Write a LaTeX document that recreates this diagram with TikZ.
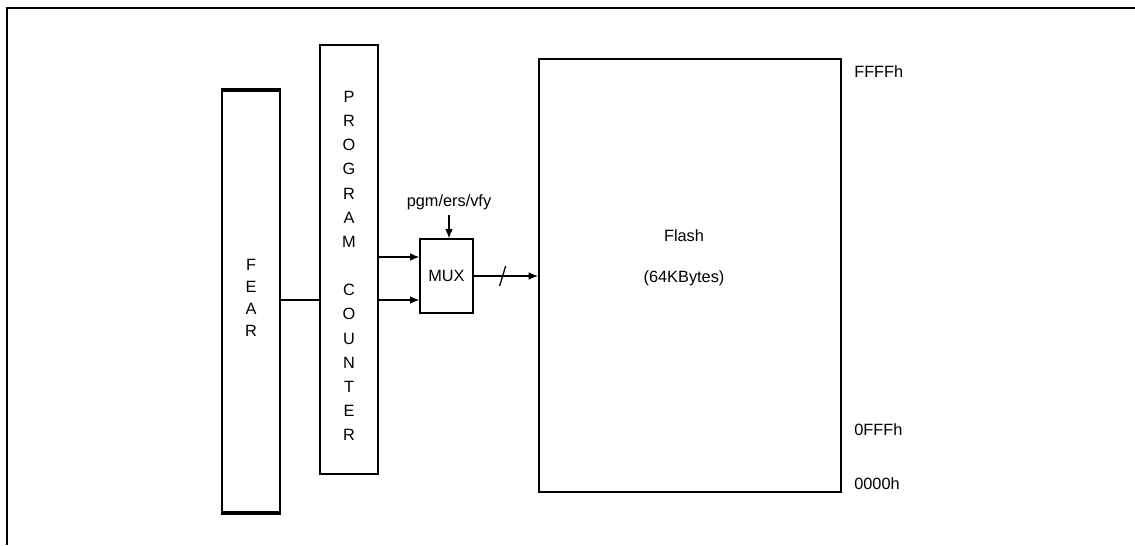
\documentclass[tikz,border=0pt]{standalone}
\usepackage{fontspec}
\setsansfont{Liberation Sans}
\usetikzlibrary{arrows.meta,calc,positioning}

\begin{document}
\begin{tikzpicture}[
  x=0.025cm,y=-0.025cm,
  font=\sffamily\fontsize{11.6}{12}\selectfont,
  >=Latex,
  reg/.style={draw,line width=1.2pt,minimum width=1.45cm,inner sep=0pt},
  block/.style={draw,line width=1.2pt,inner sep=0pt},
  stack/.style={align=center,inner sep=0pt},
  sig/.style={->,line width=0.8pt,>={Latex[length=6.5pt,width=5.5pt]}},
  addr/.style={anchor=west,inner sep=0pt}
]
\useasboundingbox (0,0) rectangle (1135,545);
% frame
\draw[line width=1.5pt] (7,545) -- (7,8) -- (1135,8);

% registers
\node[reg,minimum height=10.525cm] (fear) at (251,301.5) {};
\draw[line width=2.6pt] (fear.north west) -- (fear.north east);
\draw[line width=2.6pt] (fear.south west) -- (fear.south east);
\node[stack,font=\sffamily\fontsize{11.6}{15.6}\selectfont] (feartxt) at (251,298) {F\\E\\A\\R};

\node[reg,minimum height=10.725cm] (pc) at (349,259.5) {};
\node[stack,font=\sffamily\fontsize{11.6}{17.2}\selectfont] (pctxt) at (349,266)
  {P\\R\\O\\G\\R\\A\\M\\[17.2pt]C\\O\\U\\N\\T\\E\\R};

% mux and flash
\node[block,minimum width=1.325cm,minimum height=1.85cm] (mux) at (446.5,276) {MUX};
\node (ctl) at (449,202) {pgm/ers/vfy};

\node[block,line width=1.6pt,minimum width=7.55cm,minimum height=10.825cm] (flash) at (690,275.5) {};
\node[stack] (flashtxt) at (684,258) {Flash\\[17pt](64KBytes)};

\node[addr] (addrhi)  at (854,72)  {FFFFh};
\node[addr] (addrmid) at (854,430) {0FFFh};
\node[addr] (addrlo)  at (854,484) {0000h};

% connections
\draw[line width=0.8pt] (fear.east |- 0,300) -- (pc.west |- 0,300);
\draw[sig] (pc.east |- 0,257) -- (mux.west |- 0,257);
\draw[sig] (pc.east |- 0,300) -- (mux.west |- 0,300);
\draw[sig] (ctl.south) -- (ctl.south |- mux.north);
\draw[sig] (mux.east) -- coordinate[pos=0.45] (bus) (mux.east -| flash.west);
\draw[line width=0.9pt] ($(bus)+(3,-10)$) -- ($(bus)+(-3,10)$);
\end{tikzpicture}
\end{document}
